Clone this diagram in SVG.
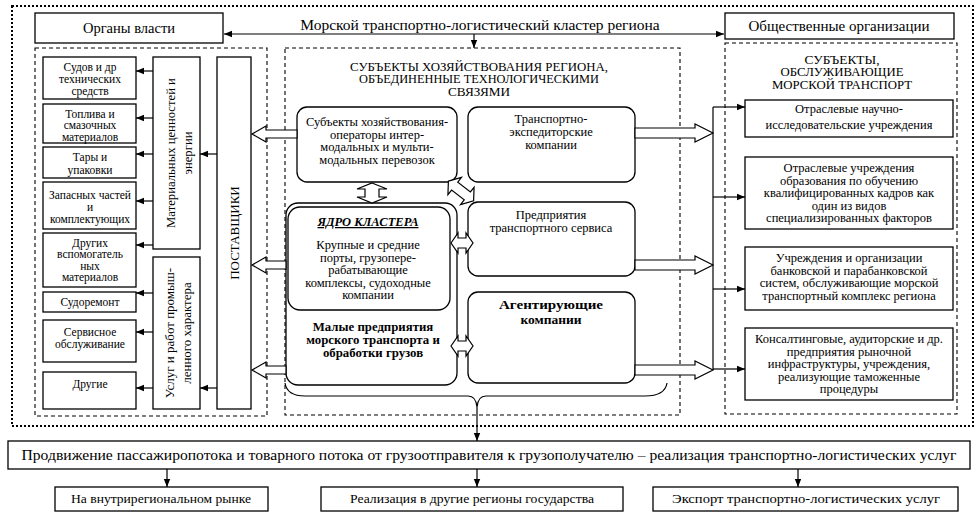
<svg xmlns="http://www.w3.org/2000/svg" width="978" height="515" viewBox="0 0 978 515">
<defs>
<style>
text{font-family:"Liberation Serif","DejaVu Serif",serif}
.box{fill:#fff;stroke:#000;stroke-width:1.3}
.t{fill:#000;text-anchor:middle}
.s11{font-size:11.5px}
.s12{font-size:12.5px}
.s13{font-size:12.8px}
.b{font-weight:bold}
.hd{font-size:11.5px}
.dash{fill:none;stroke:#000;stroke-width:1.1;stroke-dasharray:4 3}
.dot{fill:none;stroke:#000;stroke-width:2;stroke-dasharray:2 2}
.ha{fill:#fff;stroke:#000;stroke-width:1.2}
.ln{fill:none;stroke:#000;stroke-width:1.2}
</style>
<marker id="ah" viewBox="0 0 10 10" refX="10" refY="5" markerWidth="8" markerHeight="8" markerUnits="userSpaceOnUse" orient="auto"><path d="M0,1 L10,5 L0,9 z"/></marker>
</defs>
<rect width="978" height="515" fill="#fff"/>
<g font-family="Liberation Serif, DejaVu Serif, serif">
<!-- frames -->
<rect class="dot" x="12" y="6" width="961" height="420"/>
<rect class="dash" x="35" y="48" width="232" height="368"/>
<rect class="dash" x="285" y="48" width="395" height="367"/>
<rect class="dash" x="725" y="43" width="232" height="371"/>

<!-- top -->
<g id="organy"><rect class="box" x="35" y="13" width="188" height="30"/><text class="t" style="font-size:14.5px" x="129" y="33">Органы власти</text></g>
<g id="title"><text class="t" style="font-size:15.5px" x="480" y="30">Морской транспортно-логистический  кластер региона</text></g>
<g id="obsh"><rect class="box" x="725" y="13" width="229" height="26"/><text class="t" style="font-size:15px" x="839" y="31">Общественные организации</text></g>

<!-- left column -->
<g id="l1"><rect class="box" x="43" y="57" width="93" height="42"/><text class="t s11" x="90" y="71">Судов и др</text><text class="t s11" x="90" y="83">технических</text><text class="t s11" x="90" y="95">средств</text></g>
<g id="l2"><rect class="box" x="43" y="104" width="93" height="39"/><text class="t s11" x="90" y="117.5">Топлива и</text><text class="t s11" x="90" y="129">смазочных</text><text class="t s11" x="90" y="140.5">материалов</text></g>
<g id="l3"><rect class="box" x="43" y="147" width="93" height="31"/><text class="t s11" x="90" y="161">Тары и</text><text class="t s11" x="90" y="174">упаковки</text></g>
<g id="l4"><rect class="box" x="43" y="182" width="93" height="47"/><text class="t s11" x="90" y="199">Запасных частей</text><text class="t s11" x="90" y="211">и</text><text class="t s11" x="90" y="223">комплектующих</text></g>
<g id="l5"><rect class="box" x="43" y="233" width="93" height="54"/><text class="t s11" x="90" y="246.5">Других</text><text class="t s11" x="90" y="258">вспомогатель</text><text class="t s11" x="90" y="269.5">ных</text><text class="t s11" x="90" y="281">материалов</text></g>
<g id="l6"><rect class="box" x="43" y="292" width="93" height="20"/><text class="t s11" x="90" y="306">Судоремонт</text></g>
<g id="l7"><rect class="box" x="43" y="320" width="93" height="42"/><text class="t s11" x="90" y="336">Сервисное</text><text class="t s11" x="90" y="348">обслуживание</text></g>
<g id="l8"><rect class="box" x="43" y="372" width="93" height="37"/><text class="t s11" x="90" y="388">Другие</text></g>

<g id="mat"><rect class="box" x="153" y="57" width="47" height="192"/>
<text class="t" style="font-size:12.7px" transform="translate(175,153) rotate(-90)">Материальных ценностей и</text>
<text class="t" style="font-size:12.7px" transform="translate(192,153) rotate(-90)">энергии</text></g>
<g id="usl"><rect class="box" x="153" y="257" width="47" height="152"/>
<text class="t" style="font-size:13px" transform="translate(174,333) rotate(-90)">Услуг и работ промыш-</text>
<text class="t" style="font-size:13px" transform="translate(191,333) rotate(-90)">ленного характера</text></g>
<g id="post"><rect class="box" x="217" y="57" width="34" height="352"/>
<text class="t" style="font-size:13px" transform="translate(239,233) rotate(-90)">ПОСТАВЩИКИ</text></g>

<!-- center -->
<g id="ctitle"><text class="t hd" x="479" y="70.5" textLength="258" lengthAdjust="spacingAndGlyphs">СУБЪЕКТЫ ХОЗЯЙСТВОВАНИЯ РЕГИОНА,</text><text class="t hd" x="479" y="83" textLength="240" lengthAdjust="spacingAndGlyphs">ОБЪЕДИНЕННЫЕ ТЕХНОЛОГИЧЕСКИМИ</text><text class="t hd" x="479" y="95.5" textLength="62" lengthAdjust="spacingAndGlyphs">СВЯЗЯМИ</text></g>
<g id="oper"><rect class="box" x="297" y="107" width="160" height="75" rx="10"/><text class="t s12" x="377" y="126">Субъекты хозяйствования-</text><text class="t s12" x="377" y="138.5">операторы интер-</text><text class="t s12" x="377" y="151">модальных и мульти-</text><text class="t s12" x="377" y="163.5">модальных перевозок</text></g>
<g id="exp"><rect class="box" x="468" y="107" width="167" height="75" rx="10"/><text class="t s12" x="551" y="123">Транспортно-</text><text class="t s12" x="551" y="136">экспедиторские</text><text class="t s12" x="551" y="149">компании</text></g>
<g id="serv"><rect class="box" x="468" y="202" width="167" height="74" rx="10"/><text class="t s12" x="551" y="219">Предприятия</text><text class="t s12" x="551" y="232">транспортного сервиса</text></g>
<g id="agent"><rect class="box" x="468" y="292" width="167" height="91" rx="10"/><text class="t b" style="font-size:13.5px" x="551" y="309" textLength="104" lengthAdjust="spacingAndGlyphs">Агентирующие</text><text class="t b" style="font-size:13.5px" x="551" y="323.5">компании</text></g>
<g id="small"><rect class="box" x="286" y="203" width="171" height="182" rx="12"/><text class="t b s13" x="373" y="331">Малые предприятия</text><text class="t b s13" x="373" y="344">морского транспорта и</text><text class="t b s13" x="373" y="357">обработки грузов</text></g>
<g id="core"><rect class="box" x="288" y="207" width="162" height="103" rx="12"/><text class="t b s12" style="font-style:italic;text-decoration:underline" x="368" y="226">ЯДРО КЛАСТЕРА</text><text class="t s12" x="368" y="249">Крупные и средние</text><text class="t s12" x="368" y="261.5">порты, грузопере-</text><text class="t s12" x="368" y="274">рабатывающие</text><text class="t s12" x="368" y="286.5">комплексы, судоходные</text><text class="t s12" x="368" y="299">компании</text></g>

<!-- right -->
<g id="rtitle"><text class="t hd" x="842" y="63.5" textLength="75" lengthAdjust="spacingAndGlyphs">СУБЪЕКТЫ,</text><text class="t hd" x="842" y="76" textLength="123" lengthAdjust="spacingAndGlyphs">ОБСЛУЖИВАЮЩИЕ</text><text class="t hd" x="842" y="88.5" textLength="140" lengthAdjust="spacingAndGlyphs">МОРСКОЙ ТРАНСПОРТ</text></g>
<g id="r1"><rect class="box" x="745" y="100" width="208" height="37"/><text class="t s12" x="849" y="113">Отраслевые научно-</text><text class="t s12" x="849" y="129">исследовательские учреждения</text></g>
<g id="r2"><rect class="box" x="745" y="157" width="208" height="72"/><text class="t s12" x="849" y="172">Отраслевые учреждения</text><text class="t s12" x="849" y="184.5">образования по обучению</text><text class="t s12" x="849" y="197">квалифицированных кадров как</text><text class="t s12" x="849" y="209.5">один из видов</text><text class="t s12" x="849" y="222">специализированных факторов</text></g>
<g id="r3"><rect class="box" x="745" y="247" width="208" height="63"/><text class="t s12" x="849" y="262">Учреждения и организации</text><text class="t s12" x="849" y="274.5">банковской и парабанковской</text><text class="t s12" x="849" y="287">систем, обслуживающие морской</text><text class="t s12" x="849" y="299.5">транспортный комплекс региона</text></g>
<g id="r4"><rect class="box" x="745" y="328" width="208" height="72"/><text class="t s12" x="849" y="343">Консалтинговые, аудиторские и др.</text><text class="t s12" x="849" y="355.5">предприятия рыночной</text><text class="t s12" x="849" y="368">инфраструктуры, учреждения,</text><text class="t s12" x="849" y="380.5">реализующие таможенные</text><text class="t s12" x="849" y="393">процедуры</text></g>

<!-- bottom -->
<g id="flow"><rect class="box" x="8" y="441" width="962" height="28"/><text class="t" style="font-size:15px" x="489" y="460" textLength="935" lengthAdjust="spacingAndGlyphs">Продвижение пассажиропотока и товарного потока от грузоотправителя к грузополучателю – реализация транспортно-логистических услуг</text></g>
<g id="b1"><rect class="box" x="55" y="487" width="213" height="24"/><text class="t" style="font-size:13px" x="161" y="503" textLength="180" lengthAdjust="spacingAndGlyphs">На внутрирегиональном рынке</text></g>
<g id="b2"><rect class="box" x="321" y="487" width="302" height="24"/><text class="t" style="font-size:13px" x="472" y="503" textLength="244" lengthAdjust="spacingAndGlyphs">Реализация в другие регионы государства</text></g>
<g id="b3"><rect class="box" x="653" y="487" width="305" height="24"/><text class="t" style="font-size:13px" x="806" y="503" textLength="268" lengthAdjust="spacingAndGlyphs">Экспорт транспортно-логистических услуг</text></g>

<!-- connectors -->
<g id="connectors">
<line class="ln" x1="296" y1="34" x2="664" y2="34"/>
<line class="ln" x1="296" y1="34" x2="224" y2="34" marker-end="url(#ah)"/>
<line class="ln" x1="664" y1="34" x2="724" y2="34" marker-end="url(#ah)"/>
<line class="ln" x1="474" y1="34" x2="474" y2="48" marker-end="url(#ah)"/>

<line class="ln" x1="153" y1="71" x2="136" y2="71" marker-end="url(#ah)"/>
<line class="ln" x1="153" y1="118" x2="136" y2="118" marker-end="url(#ah)"/>
<line class="ln" x1="153" y1="154" x2="136" y2="154" marker-end="url(#ah)"/>
<line class="ln" x1="153" y1="201" x2="136" y2="201" marker-end="url(#ah)"/>
<line class="ln" x1="153" y1="245" x2="136" y2="245" marker-end="url(#ah)"/>
<line class="ln" x1="153" y1="293" x2="136" y2="293" marker-end="url(#ah)"/>
<line class="ln" x1="153" y1="332" x2="136" y2="332" marker-end="url(#ah)"/>
<line class="ln" x1="153" y1="388" x2="136" y2="388" marker-end="url(#ah)"/>
<line class="ln" x1="217" y1="154" x2="200" y2="154" marker-end="url(#ah)"/>
<line class="ln" x1="217" y1="388" x2="200" y2="388" marker-end="url(#ah)"/>

<polygon class="ha" points="252,134 266,126 266,130 297,130 297,138 266,138 266,142"/>
<polygon class="ha" points="252,265 266,257 266,261 286,261 286,269 266,269 266,273"/>
<polygon class="ha" points="252,370 266,362 266,366 286,366 286,374 266,374 266,378"/>

<polygon class="ha" points="713,133 695,124 695,128 635,128 635,138 695,138 695,142"/>
<polygon class="ha" points="713,265 695,256 695,260 635,260 635,270 695,270 695,274"/>
<polygon class="ha" points="713,370 695,361 695,365 635,365 635,375 695,375 695,379"/>

<polygon class="ha" points="372,183 387,189 379,189 379,197 387,197 372,203 357,197 365,197 365,189 357,189"/>
<polygon class="ha" transform="translate(461,191) rotate(38)" points="-16,0 -8,-11 -8,-5 8,-5 8,-11 16,0 8,11 8,5 -8,5 -8,11"/>
<polygon class="ha" transform="translate(462,243)" points="-11,0 -4,-10 -4,-5 4,-5 4,-10 11,0 4,10 4,5 -4,5 -4,10"/>
<polygon class="ha" transform="translate(462,346)" points="-11,0 -4,-10 -4,-5 4,-5 4,-10 11,0 4,10 4,5 -4,5 -4,10"/>

<line class="ln" x1="713" y1="107" x2="713" y2="370"/>
<line class="ln" x1="713" y1="107" x2="745" y2="107" marker-end="url(#ah)"/>
<line class="ln" x1="713" y1="197" x2="745" y2="197" marker-end="url(#ah)"/>
<line class="ln" x1="713" y1="289" x2="745" y2="289" marker-end="url(#ah)"/>
<line class="ln" x1="713" y1="369" x2="745" y2="369" marker-end="url(#ah)"/>

<path class="ln" d="M285,383 Q287,396 305,396 L468,396 Q476,396 477,407 Q478,396 486,396 L645,396 Q665,396 667,383"/>
<line class="ln" x1="477" y1="407" x2="477" y2="441" marker-end="url(#ah)"/>
<line class="ln" x1="167" y1="469" x2="167" y2="487" marker-end="url(#ah)"/>
<line class="ln" x1="477" y1="469" x2="477" y2="487" marker-end="url(#ah)"/>
<line class="ln" x1="798" y1="469" x2="798" y2="487" marker-end="url(#ah)"/>
</g>
</g>
</svg>
